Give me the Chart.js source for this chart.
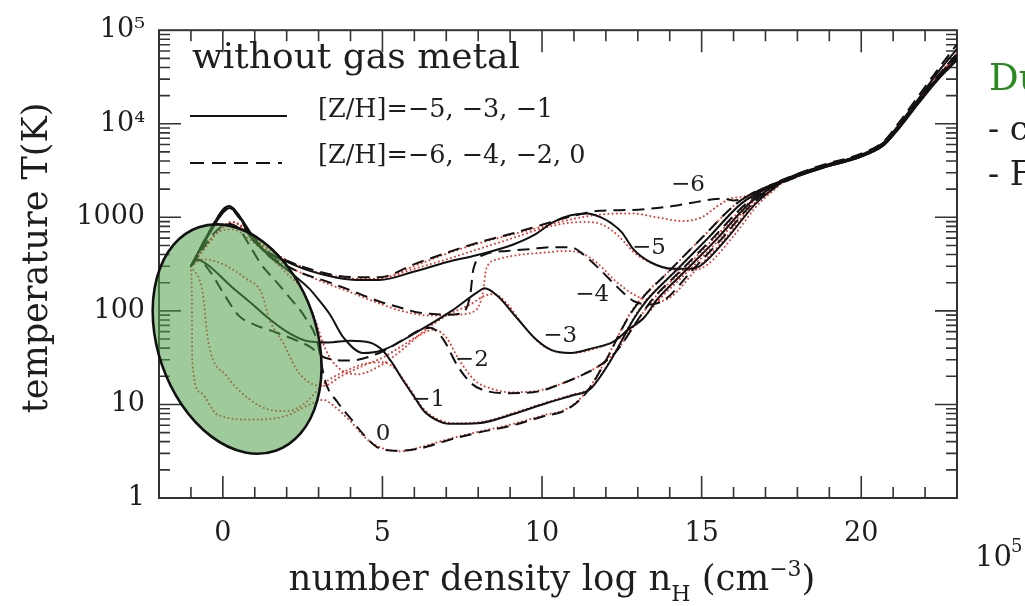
<!DOCTYPE html>
<html>
<head>
<meta charset="utf-8">
<title>Thermal evolution without gas metal</title>
<script src="https://cdn.jsdelivr.net/npm/chart.js@4.4.1/dist/chart.umd.min.js"></script>
<style>
  html, body { margin: 0; padding: 0; background: #fff; }
  #wrap { position: relative; width: 1025px; height: 606px; }
</style>
</head>
<body>
<div id="wrap"><canvas id="chart" width="1025" height="606"></canvas></div>
<script>
// ---- data: log n_H (cm^-3) and T (K) ----

// [Z/H] = -6 (dashed)
const xZm6 = [-1, -0.5, 0.0, 0.2, 0.5, 0.85, 1.4, 1.9, 2.7, 3.5, 4.2, 4.9, 6.0, 7.0, 8.0, 9.1, 10.0, 10.8, 11.8, 12.8, 13.9, 14.6, 15.3, 15.7, 16.0, 16.3, 16.6, 17.0, 17.6, 18.7, 20.0, 20.7, 21.2, 21.8, 22.4, 23.0];
const tZm6 = [300, 630, 1200, 1320, 1050, 630, 427, 355, 282, 240, 229, 229, 316, 417, 537, 676, 832, 1000, 1175, 1200, 1290, 1410, 1550, 1585, 1515, 1585, 1820, 2090, 2570, 3550, 4790, 6460, 10500, 20000, 38000, 70800];

// [Z/H] = -5 (solid)
const xZm5 = [-1, -0.5, 0.0, 0.2, 0.5, 0.85, 1.4, 1.9, 2.7, 3.5, 4.2, 4.9, 6.0, 7.0, 8.0, 9.1, 9.8, 10.35, 10.9, 11.4, 11.85, 12.2, 12.5, 12.86, 13.4, 14.1, 14.6, 14.95, 15.8, 16.7, 17.3, 17.6, 18.7, 20.0, 20.7, 21.2, 21.8, 22.4, 23.0];
const tZm5 = [300, 630, 1200, 1320, 1050, 630, 417, 347, 269, 229, 214, 214, 263, 331, 398, 513, 661, 891, 1050, 1100, 1000, 851, 692, 457, 331, 282, 282, 302, 600, 1410, 2090, 2510, 3470, 4680, 6310, 10000, 18600, 35500, 63100];

// [Z/H] = -4 (dashed)
const xZm4 = [-1, -0.5, 0.0, 0.2, 0.5, 0.9, 1.4, 1.9, 2.5, 3.2, 4.0, 4.9, 5.5, 6.0, 6.5, 7.0, 7.5, 7.75, 7.85, 8.2, 8.9, 9.6, 10.3, 10.9, 11.3, 11.8, 12.4, 12.9, 13.4, 13.85, 14.7, 15.65, 16.6, 17.25, 17.6, 18.7, 20.0, 20.7, 21.2, 21.8, 22.4, 23.0];
const tZm4 = [300, 600, 1120, 1260, 1000, 630, 400, 316, 251, 209, 166, 126, 110, 98, 93, 91, 95, 148, 280, 400, 437, 457, 479, 479, 400, 280, 174, 126, 117, 132, 270, 600, 1410, 2090, 2460, 3390, 4570, 6030, 9330, 17400, 31600, 55000];

// [Z/H] = -3 (solid)
const xZm3 = [-1, -0.5, 0.0, 0.2, 0.5, 0.9, 1.4, 1.9, 2.3, 2.7, 3.0, 3.36, 3.77, 4.4, 5.0, 6.1, 7.13, 7.97, 8.2, 8.6, 9.2, 9.8, 10.3, 10.9, 11.6, 12.24, 12.7, 13.2, 13.6, 14.5, 15.5, 16.5, 17.2, 17.6, 18.7, 20.0, 20.7, 21.2, 21.8, 22.4, 23.0];
const tZm3 = [300, 600, 1120, 1260, 1050, 660, 400, 295, 229, 174, 132, 91, 52.5, 35.5, 38, 60, 98, 158, 174, 145, 85, 50, 38, 35.5, 40, 47, 63, 85, 132, 270, 600, 1410, 2090, 2460, 3310, 4470, 5890, 9120, 16600, 29500, 47900];

// [Z/H] = -2 (dashed)
const xZm2 = [-1, -0.8, -0.4, 0.0, 0.5, 1.0, 1.6, 2.2, 2.7, 3.2, 4.0, 4.9, 5.6, 6.2, 6.5, 6.9, 7.35, 7.8, 8.3, 9.0, 9.9, 10.6, 11.3, 11.8, 12.3, 13.05, 13.45, 14.35, 15.35, 16.4, 17.15, 17.6, 18.7, 20.0, 20.7, 21.2, 21.8, 22.4, 23.0];
const tZm2 = [300, 355, 263, 158, 89, 71, 60, 50, 42, 31.6, 29.5, 35.5, 48, 63, 66, 50, 26, 16.6, 13.8, 13.2, 13.8, 16.6, 21, 26, 36, 85, 132, 270, 600, 1410, 2090, 2400, 3390, 4570, 6030, 9550, 17800, 32400, 56200];

// [Z/H] = -1 (solid)
const xZm1 = [-1, -0.8, -0.5, 0.3, 0.9, 1.4, 2.0, 2.6, 3.3, 4.0, 4.6, 5.0, 5.3, 5.65, 6.0, 6.3, 6.7, 7.1, 8.0, 9.1, 10.2, 11.0, 11.5, 12.15, 12.9, 13.3, 14.2, 15.2, 16.25, 17.1, 17.6, 18.7, 20.0, 20.7, 21.2, 21.8, 22.4, 23.0];
const tZm1 = [300, 355, 315, 178, 120, 85, 60, 48, 46, 48, 46, 38, 28, 18, 12, 8.5, 6.8, 6.2, 6.3, 7.9, 10.5, 12.6, 14.5, 29.5, 85, 132, 270, 600, 1410, 2090, 2460, 3310, 4470, 5890, 9120, 17000, 30900, 50100];

// [Z/H] = 0 (dashed)
const xZ0 = [-1, -0.6, -0.2, 0.2, 0.5, 0.8, 1.2, 1.7, 2.1, 2.6, 2.95, 3.2, 3.6, 4.0, 4.5, 4.9, 5.5, 6.2, 7.0, 8.0, 9.1, 10.0, 10.8, 11.4, 12.0, 12.7, 13.1, 14.0, 15.0, 16.1, 17.0, 17.6, 18.7, 20.0, 20.7, 21.2, 21.8, 22.4, 23.0];
const tZ0 = [300, 480, 720, 850, 760, 525, 315, 200, 138, 83, 48, 18, 10.5, 7.1, 4.4, 3.4, 3.2, 3.4, 4.1, 5.0, 6.0, 7.4, 8.9, 13.5, 29.5, 85, 132, 270, 600, 1410, 2090, 2510, 3390, 4570, 6030, 9330, 17400, 31600, 52500];

// red dotted companions, same metallicities
const xRm6 = [-1, -0.5, 0.0, 0.3, 0.7, 1.2, 1.8, 2.6, 3.5, 4.3, 5.0, 6.0, 7.0, 8.0, 9.1, 10.0, 10.8, 11.8, 12.8, 13.6, 14.4, 15.0, 15.5, 15.9, 16.3, 16.7, 17.1, 17.6, 18.7, 20.0, 20.7, 21.2, 21.8, 22.4, 23.0];
const tRm6 = [300, 500, 794, 891, 759, 525, 380, 282, 234, 219, 224, 302, 407, 525, 661, 794, 933, 1070, 1100, 1000, 912, 1000, 1320, 1585, 1660, 1820, 2040, 2400, 3310, 4470, 6030, 9330, 17400, 31600, 56200];

const xRm5 = [-1, -0.5, 0.0, 0.3, 0.7, 1.2, 1.8, 2.6, 3.5, 4.3, 5.0, 6.0, 7.0, 8.0, 9.1, 10.0, 10.8, 11.4, 11.9, 12.4, 12.9, 13.5, 14.2, 14.8, 15.2, 16.0, 16.8, 17.3, 17.6, 18.7, 20.0, 20.7, 21.2, 21.8, 22.4, 23.0];
const tRm5 = [300, 500, 794, 891, 759, 525, 380, 282, 234, 219, 224, 282, 355, 457, 603, 759, 871, 891, 832, 631, 417, 316, 275, 275, 316, 631, 1410, 2000, 2460, 3470, 4680, 6310, 10000, 18600, 35500, 63100];

const xRm4 = [-1, -0.5, 0.0, 0.3, 0.7, 1.2, 1.8, 2.5, 3.2, 4.0, 4.9, 5.6, 6.5, 7.3, 7.9, 8.15, 8.25, 8.6, 9.3, 10.0, 10.7, 11.2, 11.7, 12.3, 12.9, 13.5, 14.0, 14.8, 15.75, 16.65, 17.3, 17.6, 18.7, 20.0, 20.7, 21.2, 21.8, 22.4, 23.0];
const tRm4 = [300, 500, 794, 891, 724, 500, 331, 251, 200, 158, 120, 100, 89, 91, 100, 158, 282, 355, 398, 417, 437, 417, 331, 209, 148, 126, 138, 270, 600, 1410, 2090, 2460, 3390, 4570, 6030, 9330, 17400, 31600, 55000];

const xRm3 = [-1, -0.5, -0.1, 0.3, 0.9, 1.4, 2.0, 2.5, 2.9, 3.2, 3.6, 4.2, 4.93, 5.6, 6.28, 7.0, 7.75, 8.2, 8.5, 8.9, 9.4, 9.9, 10.4, 11.0, 11.7, 12.3, 12.9, 13.3, 13.7, 14.6, 15.6, 16.55, 17.25, 17.6, 18.7, 20.0, 20.7, 21.2, 21.8, 22.4, 23.0];
const tRm3 = [300, 525, 708, 741, 562, 398, 251, 166, 79, 40, 25, 21, 26, 38, 60, 89, 117, 145, 151, 120, 71, 46, 37, 35.5, 40, 48, 69, 93, 135, 270, 600, 1410, 2090, 2460, 3310, 4470, 5890, 9120, 16600, 29500, 47900];

const xRm2 = [-1, -0.6, 0.0, 0.7, 1.2, 1.48, 1.9, 2.33, 2.73, 3.15, 3.7, 4.4, 5.0, 5.6, 6.2, 6.6, 7.0, 7.4, 7.9, 8.4, 9.0, 9.9, 10.6, 11.3, 11.9, 12.4, 13.1, 13.5, 14.4, 15.4, 16.45, 17.2, 17.6, 18.7, 20.0, 20.7, 21.2, 21.8, 22.4, 23.0];
const tRm2 = [300, 355, 316, 224, 158, 78, 45, 23, 17, 15.8, 20, 26, 31.6, 42, 56, 63, 52, 30, 18, 14.8, 13.5, 14.1, 16.6, 21, 27.5, 40, 89, 135, 270, 600, 1410, 2090, 2400, 3390, 4570, 6030, 9550, 17800, 32400, 56200];

const xRm1 = [-1, -0.7, -0.62, -0.46, 0.13, 0.86, 1.4, 2.0, 2.6, 3.15, 3.8, 4.5, 5.0, 5.4, 5.8, 6.3, 6.8, 7.3, 8.2, 9.1, 10.2, 11.0, 11.5, 12.15, 12.9, 13.3, 14.2, 15.2, 16.25, 17.1, 17.6, 18.7, 20.0, 20.7, 21.2, 21.8, 22.4, 23.0];
const tRm1 = [300, 200, 148, 48, 20, 11.2, 8.9, 8.5, 10.5, 16.6, 22.4, 27.5, 28.2, 24, 15.8, 8.9, 6.8, 6.3, 6.6, 8.1, 10.7, 12.9, 14.8, 30, 87, 135, 270, 600, 1410, 2090, 2460, 3310, 4470, 5890, 9120, 17000, 30900, 50100];

const xR0 = [-1, -0.97, -0.96, -0.71, -0.18, 0.86, 1.9, 2.73, 3.15, 3.5, 4.0, 4.5, 5.0, 5.6, 6.2, 7.0, 8.0, 9.1, 10.0, 10.8, 11.4, 12.0, 12.7, 13.1, 14.0, 15.0, 16.1, 17.0, 17.6, 18.7, 20.0, 20.7, 21.2, 21.8, 22.4, 23.0];
const tR0 = [300, 148, 29.5, 13.5, 7.8, 6.9, 7.4, 10, 11.2, 9.5, 6.6, 4.3, 3.4, 3.16, 3.5, 4.2, 5.1, 6.2, 7.6, 9.1, 13.8, 30, 87, 135, 270, 600, 1410, 2090, 2510, 3390, 4570, 6030, 9330, 17400, 31600, 52500];

// axis ticks and labels
const xMajor = [0, 5, 10, 15, 20];
const yMajor = [1, 10, 100, 1000, 10000, 100000];
const yTickLabels = ['1', '10', '100', '1000', '10\u2074', '10\u2075'];

// curve labels: text, log n_H, T
const curveLabelText = ['\u22126', '\u22125', '\u22124', '\u22123', '\u22122', '\u22121', '0'];
const curveLabelX = [14.57, 13.35, 11.57, 10.57, 7.8, 6.43, 5.02];
const curveLabelT = [2240, 468, 148, 54, 29.5, 11.2, 4.8];

const FONT = '"DejaVu Serif", serif';
const INK = '#1e1e1e';
const RED = '#e8362f';

const pts = (xs, ts) => xs.map((v, i) => ({ x: v, y: ts[i] }));

function blackSet(xs, ts, dashed) {
  return {
    data: pts(xs, ts),
    borderColor: '#111',
    borderWidth: 2,
    borderDash: dashed ? [12, 7] : [],
    borderCapStyle: 'butt',
    showLine: true,
    pointRadius: 0,
    cubicInterpolationMode: 'monotone'
  };
}

function redSet(xs, ts) {
  return {
    data: pts(xs, ts),
    borderColor: RED,
    borderWidth: 2,
    borderDash: [0.01, 4.2],
    borderCapStyle: 'round',
    showLine: true,
    pointRadius: 0,
    cubicInterpolationMode: 'monotone'
  };
}

// first dataset is drawn on top, so black before red
const datasets = [
  blackSet(xZm6, tZm6, true),
  blackSet(xZm5, tZm5, false),
  blackSet(xZm4, tZm4, true),
  blackSet(xZm3, tZm3, false),
  blackSet(xZm2, tZm2, true),
  blackSet(xZm1, tZm1, false),
  blackSet(xZ0, tZ0, true),
  redSet(xRm6, tRm6),
  redSet(xRm5, tRm5),
  redSet(xRm4, tRm4),
  redSet(xRm3, tRm3),
  redSet(xRm2, tRm2),
  redSet(xRm1, tRm1),
  redSet(xR0, tR0)
];

// rich text helper for sub/superscripts
function drawRich(ctx, parts, cx, base, size) {
  const widths = parts.map(p => {
    ctx.font = (p.s ? size * 0.62 : size) + 'px ' + FONT;
    return ctx.measureText(p.t).width;
  });
  let x = cx - widths.reduce((a, b) => a + b, 0) / 2;
  ctx.textAlign = 'left';
  ctx.textBaseline = 'alphabetic';
  parts.forEach((p, i) => {
    ctx.font = (p.s ? size * 0.62 : size) + 'px ' + FONT;
    let y = base;
    if (p.s === 'sub') y += size * 0.3;
    if (p.s === 'sup') y -= size * 0.4;
    ctx.fillText(p.t, x, y);
    x += widths[i];
  });
}

const framePlugin = {
  id: 'frame',
  beforeDatasetsDraw(chart) {
    const { ctx, chartArea: a, scales: { x, y } } = chart;
    ctx.save();
    ctx.strokeStyle = '#333';
    ctx.lineWidth = 2;
    ctx.strokeRect(a.left, a.top, a.right - a.left, a.bottom - a.top);
    ctx.lineWidth = 1.6;
    ctx.beginPath();
    // x ticks, bottom and top, pointing inward
    for (let v = -2; v <= 23; v++) {
      const px = x.getPixelForValue(v);
      const len = v % 5 === 0 ? 22 : 11;
      ctx.moveTo(px, a.bottom); ctx.lineTo(px, a.bottom - len);
      ctx.moveTo(px, a.top); ctx.lineTo(px, a.top + len);
    }
    // y ticks, log minor ticks
    for (let e = 0; e <= 4; e++) {
      for (let m = 1; m <= 9; m++) {
        const py = y.getPixelForValue(m * Math.pow(10, e));
        const len = m === 1 ? 22 : 11;
        ctx.moveTo(a.left, py); ctx.lineTo(a.left + len, py);
        ctx.moveTo(a.right, py); ctx.lineTo(a.right - len, py);
      }
    }
    ctx.stroke();
    ctx.restore();
  },
  afterDatasetsDraw(chart) {
    const { ctx, scales: { x, y } } = chart;
    ctx.save();

    // highlighted region (green ellipse)
    const cx = x.getPixelForValue(0.447);
    const cy = y.getPixelForValue(50);
    const pxX = x.getPixelForValue(1) - x.getPixelForValue(0);
    const pxDec = y.getPixelForValue(1) - y.getPixelForValue(10);
    ctx.beginPath();
    ctx.ellipse(cx, cy, 2.49 * pxX, 1.263 * pxDec, -19 * Math.PI / 180, 0, Math.PI * 2);
    ctx.fillStyle = 'rgba(80,160,75,0.55)';
    ctx.fill();
    ctx.lineWidth = 2.6;
    ctx.strokeStyle = '#111';
    ctx.stroke();

    ctx.fillStyle = INK;
    // header and legend
    ctx.font = '36px ' + FONT;
    ctx.textAlign = 'left';
    ctx.textBaseline = 'alphabetic';
    ctx.fillText('without gas metal', 192, 68);

    ctx.strokeStyle = '#111';
    ctx.lineWidth = 2;
    ctx.beginPath();
    ctx.moveTo(190, 116); ctx.lineTo(287, 116);
    ctx.stroke();
    ctx.setLineDash([14, 8]);
    ctx.beginPath();
    ctx.moveTo(190, 163); ctx.lineTo(282, 163);
    ctx.stroke();
    ctx.setLineDash([]);

    ctx.font = '25.5px ' + FONT;
    ctx.textBaseline = 'middle';
    ctx.fillText('[Z/H]=\u22125, \u22123, \u22121', 318, 110);
    ctx.fillText('[Z/H]=\u22126, \u22124, \u22122, 0', 318, 156);

    // labels on curves
    ctx.font = '23px ' + FONT;
    ctx.textAlign = 'center';
    curveLabelText.forEach((t, i) => {
      ctx.fillText(t, x.getPixelForValue(curveLabelX[i]), y.getPixelForValue(curveLabelT[i]));
    });

    // axis titles
    drawRich(ctx, [
      { t: 'number density log n' },
      { t: 'H', s: 'sub' },
      { t: ' (cm' },
      { t: '\u22123', s: 'sup' },
      { t: ')' }
    ], 552, 590, 35.5);

    ctx.save();
    ctx.translate(38, 258);
    ctx.rotate(-Math.PI / 2);
    ctx.font = '35px ' + FONT;
    ctx.textAlign = 'center';
    ctx.textBaseline = 'middle';
    ctx.fillText('temperature T(K)', 0, 0);
    ctx.restore();

    // slide text at the right edge
    ctx.textAlign = 'left';
    ctx.textBaseline = 'alphabetic';
    ctx.fillStyle = '#2b8a1f';
    ctx.font = '37px ' + FONT;
    ctx.fillText('Du', 989, 90);
    ctx.fillStyle = INK;
    ctx.font = '33px ' + FONT;
    ctx.fillText('- c', 988, 140);
    ctx.fillText('- F', 988, 185);
    ctx.font = '29px ' + FONT;
    ctx.fillText('10', 975, 566);
    ctx.font = '18px ' + FONT;
    ctx.fillText('5', 1011, 552);

    ctx.restore();
  }
};

new Chart(document.getElementById('chart'), {
  type: 'scatter',
  data: { datasets },
  options: {
    responsive: false,
    animation: false,
    devicePixelRatio: 1,
    layout: { padding: { top: 19, right: 68, left: 0, bottom: 0 } },
    plugins: { legend: { display: false }, tooltip: { enabled: false } },
    scales: {
      x: {
        type: 'linear',
        min: -2,
        max: 23,
        grid: { display: false, drawTicks: false },
        border: { display: false },
        afterFit: s => { s.height = 108; },
        afterBuildTicks: s => { s.ticks = xMajor.map(v => ({ value: v })); },
        ticks: { font: { family: FONT, size: 27 }, color: INK, padding: 20, maxRotation: 0, autoSkip: false }
      },
      y: {
        type: 'logarithmic',
        min: 1,
        max: 100000,
        grid: { display: false, drawTicks: false },
        border: { display: false },
        afterFit: s => { s.width = 159; },
        afterBuildTicks: s => { s.ticks = yMajor.map(v => ({ value: v })); },
        ticks: {
          font: { family: FONT, size: 27 },
          color: INK,
          padding: 14,
          autoSkip: false,
          callback: (v) => {
            const i = yMajor.indexOf(v);
            return i >= 0 ? yTickLabels[i] : '';
          }
        }
      }
    }
  },
  plugins: [framePlugin]
});
</script>
</body>
</html>
